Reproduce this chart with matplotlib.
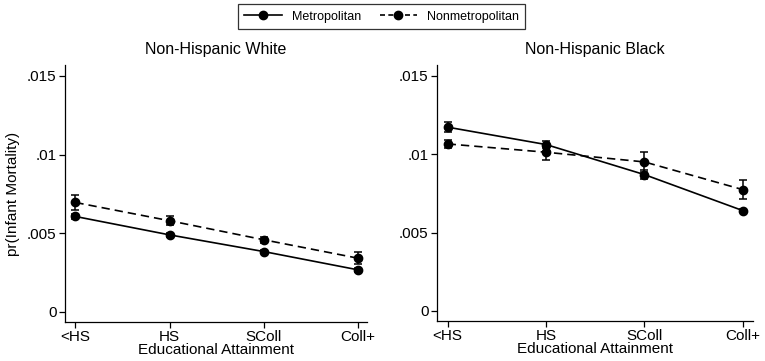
import matplotlib
matplotlib.use('Agg')
import matplotlib.pyplot as plt
from matplotlib.lines import Line2D

plt.rcParams['font.family'] = ['Liberation Sans', 'DejaVu Sans']

# Data
categories = ['<HS', 'HS', 'SColl', 'Coll+']
panels = ['Non-Hispanic White', 'Non-Hispanic Black']

white_metro = [0.00607, 0.00490, 0.00384, 0.00268]
white_metro_err = [0.00018, 0.00014, 0.00010, 0.00012]
white_nonmetro = [0.00696, 0.00580, 0.00459, 0.00342]
white_nonmetro_err = [0.00050, 0.00030, 0.00018, 0.00036]

black_metro = [0.01173, 0.01062, 0.00870, 0.00640]
black_metro_err = [0.00030, 0.00022, 0.00030, 0.00010]
black_nonmetro = [0.01066, 0.01013, 0.00951, 0.00774]
black_nonmetro_err = [0.00028, 0.00047, 0.00062, 0.00062]

yticks = [0, 0.005, 0.01, 0.015]
ytick_labels = ['0', '.005', '.01', '.015']

fig = plt.figure(figsize=(7.65, 3.61), dpi=100)
ax1 = fig.add_axes([0.085, 0.108, 0.395, 0.712])
ax2 = fig.add_axes([0.571, 0.111, 0.413, 0.709])

x = range(len(categories))
data = [(white_metro, white_metro_err, white_nonmetro, white_nonmetro_err),
        (black_metro, black_metro_err, black_nonmetro, black_nonmetro_err)]

for ax, title, (m, me, n, ne) in zip([ax1, ax2], panels, data):
    ax.errorbar(x, m, yerr=me, color='black', marker='o', markersize=6,
                linestyle='-', linewidth=1.2, capsize=3, elinewidth=1.1,
                capthick=1.1)
    ax.errorbar(x, n, yerr=ne, color='black', marker='o', markersize=6,
                linestyle=(0, (5, 3)), linewidth=1.2, capsize=3,
                elinewidth=1.1, capthick=1.1)
    ax.set_xlim(-0.11, 3.1)
    ax.set_ylim(-0.00064, 0.0157)
    ax.set_xticks(list(x))
    ax.set_xticklabels(categories, fontsize=11)
    ax.set_yticks(yticks)
    ax.set_yticklabels(ytick_labels, fontsize=11)
    ax.tick_params(direction='out', length=4, width=0.9, pad=2)
    ax.spines['top'].set_visible(False)
    ax.spines['right'].set_visible(False)
    ax.spines['left'].set_linewidth(0.9)
    ax.spines['bottom'].set_linewidth(0.9)
    ax.set_title(title, fontsize=11.5, pad=8)
    ax.set_xlabel('Educational Attainment', fontsize=11, labelpad=-1)

ax1.set_ylabel('pr(Infant Mortality)', fontsize=11, labelpad=5)

handles = [Line2D([], [], color='black', marker='o', markersize=6, linestyle='-', linewidth=1.2),
           Line2D([], [], color='black', marker='o', markersize=6, linestyle=(0, (3, 2)), linewidth=1.2)]
leg = fig.legend(handles, ['Metropolitan', 'Nonmetropolitan'], loc='center',
                 bbox_to_anchor=(0.499, 0.954), ncol=2, fontsize=9,
                 frameon=True, fancybox=False, edgecolor='black',
                 handlelength=3, columnspacing=1.5, borderpad=0.5)
leg.get_frame().set_linewidth(0.9)

fig.savefig('out.png', dpi=100)
